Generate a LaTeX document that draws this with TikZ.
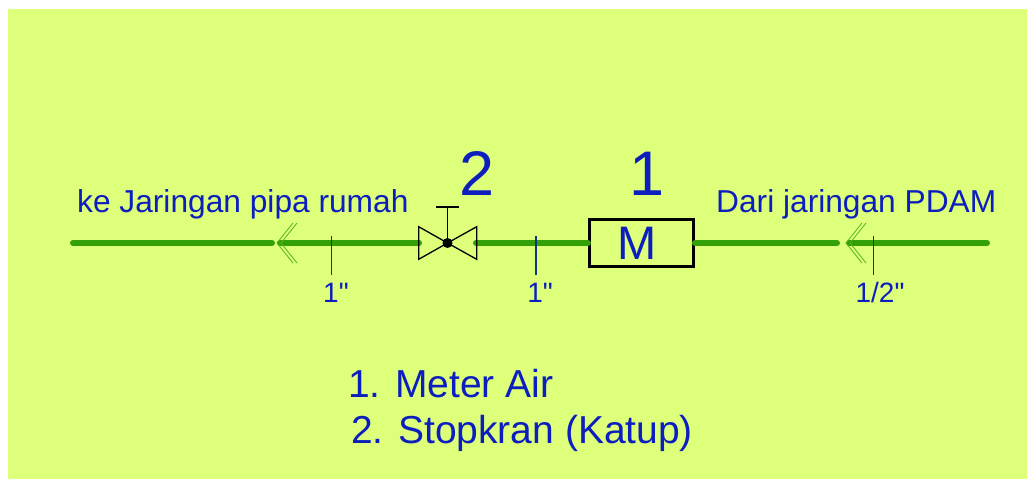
\documentclass[tikz,border=0pt]{standalone}
\usepackage{fontspec}
\setmainfont{Liberation Sans}
\newfontfamily\plainsans{Liberation Sans}
\definecolor{bgc}{RGB}{222,255,122}
\definecolor{pipec}{RGB}{52,160,8}
\definecolor{txt}{RGB}{12,30,190}
\definecolor{tick}{RGB}{15,50,130}
\tikzset{
  pipe/.style={draw=pipec,line width=6pt,line cap=round},
  chevron/.style={draw=pipec!80!bgc,line width=0.8pt},
  ticks/.style={draw=tick,line width=1.2pt},
  sym/.style={draw=black,line width=1.3pt,line join=miter},
  lab/.style={inner sep=0pt,text=txt,anchor=base west,font=\fontsize{31.7}{32}\selectfont},
  key/.style={lab,font=\fontsize{39}{39}\selectfont},
  big/.style={inner sep=0pt,text=txt,anchor=base,font=\fontsize{63}{63}\selectfont},
  dim/.style={inner sep=0pt,text=txt,anchor=base,font=\plainsans\fontsize{28}{28}\selectfont},
  meter/.style={draw=black,line width=3pt,minimum width=104pt,minimum height=47pt,inner sep=0pt},
  meterlab/.style={inner sep=0pt,text=txt,anchor=base,font=\fontsize{47}{47}\selectfont}
}
\begin{document}
\begin{tikzpicture}[x=1pt,y=-1pt]
\useasboundingbox (0,0) rectangle (1027,479);
\fill[bgc] (8,9) rectangle (1027,479);
% meter
\node[meter] (M) at (641.5,243) {};
\node[meterlab] (Mt) at (637,259) {M};
% pipe ends
\coordinate (a) at (73,243); \coordinate (b) at (272,243);
\coordinate (c) at (280,243); \coordinate (d) at (419,243);
\coordinate (e) at (476,243);
\coordinate (h) at (837,243);
\coordinate (i) at (849,243); \coordinate (j) at (987,243);
\draw[pipe] (a) -- (b);
\draw[pipe] (c) -- (d);
\draw[pipe] (e) -- (M.west);
\draw[pipe] (M.east) -- (h);
\draw[pipe] (i) -- (j);
% valve
\coordinate (vc) at (447.5,243);
\coordinate (vt) at (447.5,207);
\draw[sym] (vc) -- (418.7,226.7) -- (418.7,259.3) -- cycle;
\draw[sym] (vc) -- (476.7,226.7) -- (476.7,259.3) -- cycle;
\draw[sym] (vc) -- (vt);
\draw[sym] (436,207) -- (459,207);
\node[circle,fill=black,inner sep=0pt,minimum size=10pt] (vd) at (vc) {};
% chevrons
\draw[chevron] (293,223) -- (277,243) -- (293,263);
\draw[chevron] (297,223) -- (281,243) -- (297,263);
\draw[chevron] (862,223) -- (846,243) -- (862,263);
\draw[chevron] (866,223) -- (850,243) -- (866,263);
% ticks
\coordinate (t1a) at (331.5,236); \coordinate (t1b) at (331.5,275);
\coordinate (t2a) at (536,236); \coordinate (t2b) at (536,275);
\coordinate (t3a) at (873.5,236); \coordinate (t3b) at (873.5,275);
\draw[ticks] (t1a) -- (t1b);
\draw[ticks] (t2a) -- (t2b);
\draw[ticks] (t3a) -- (t3b);
% text
\node[lab] (l1) at (77,212) {ke Jaringan pipa rumah};
\node[lab] (l2) at (716,212) {Dari jaringan PDAM};
\node[big] (n2) at (477,195) {2};
\node[big] (n1) at (647,195) {1};
\node[dim] (d1) at (336,302) {1"};
\node[dim] (d2) at (540,302) {1"};
\node[dim] (d3) at (880,302) {1/2"};
\node[key] (k1) at (348,397.5) {1. Meter Air};
\node[key] (k2) at (351,443) {2. Stopkran (Katup)};
\end{tikzpicture}
\end{document}
